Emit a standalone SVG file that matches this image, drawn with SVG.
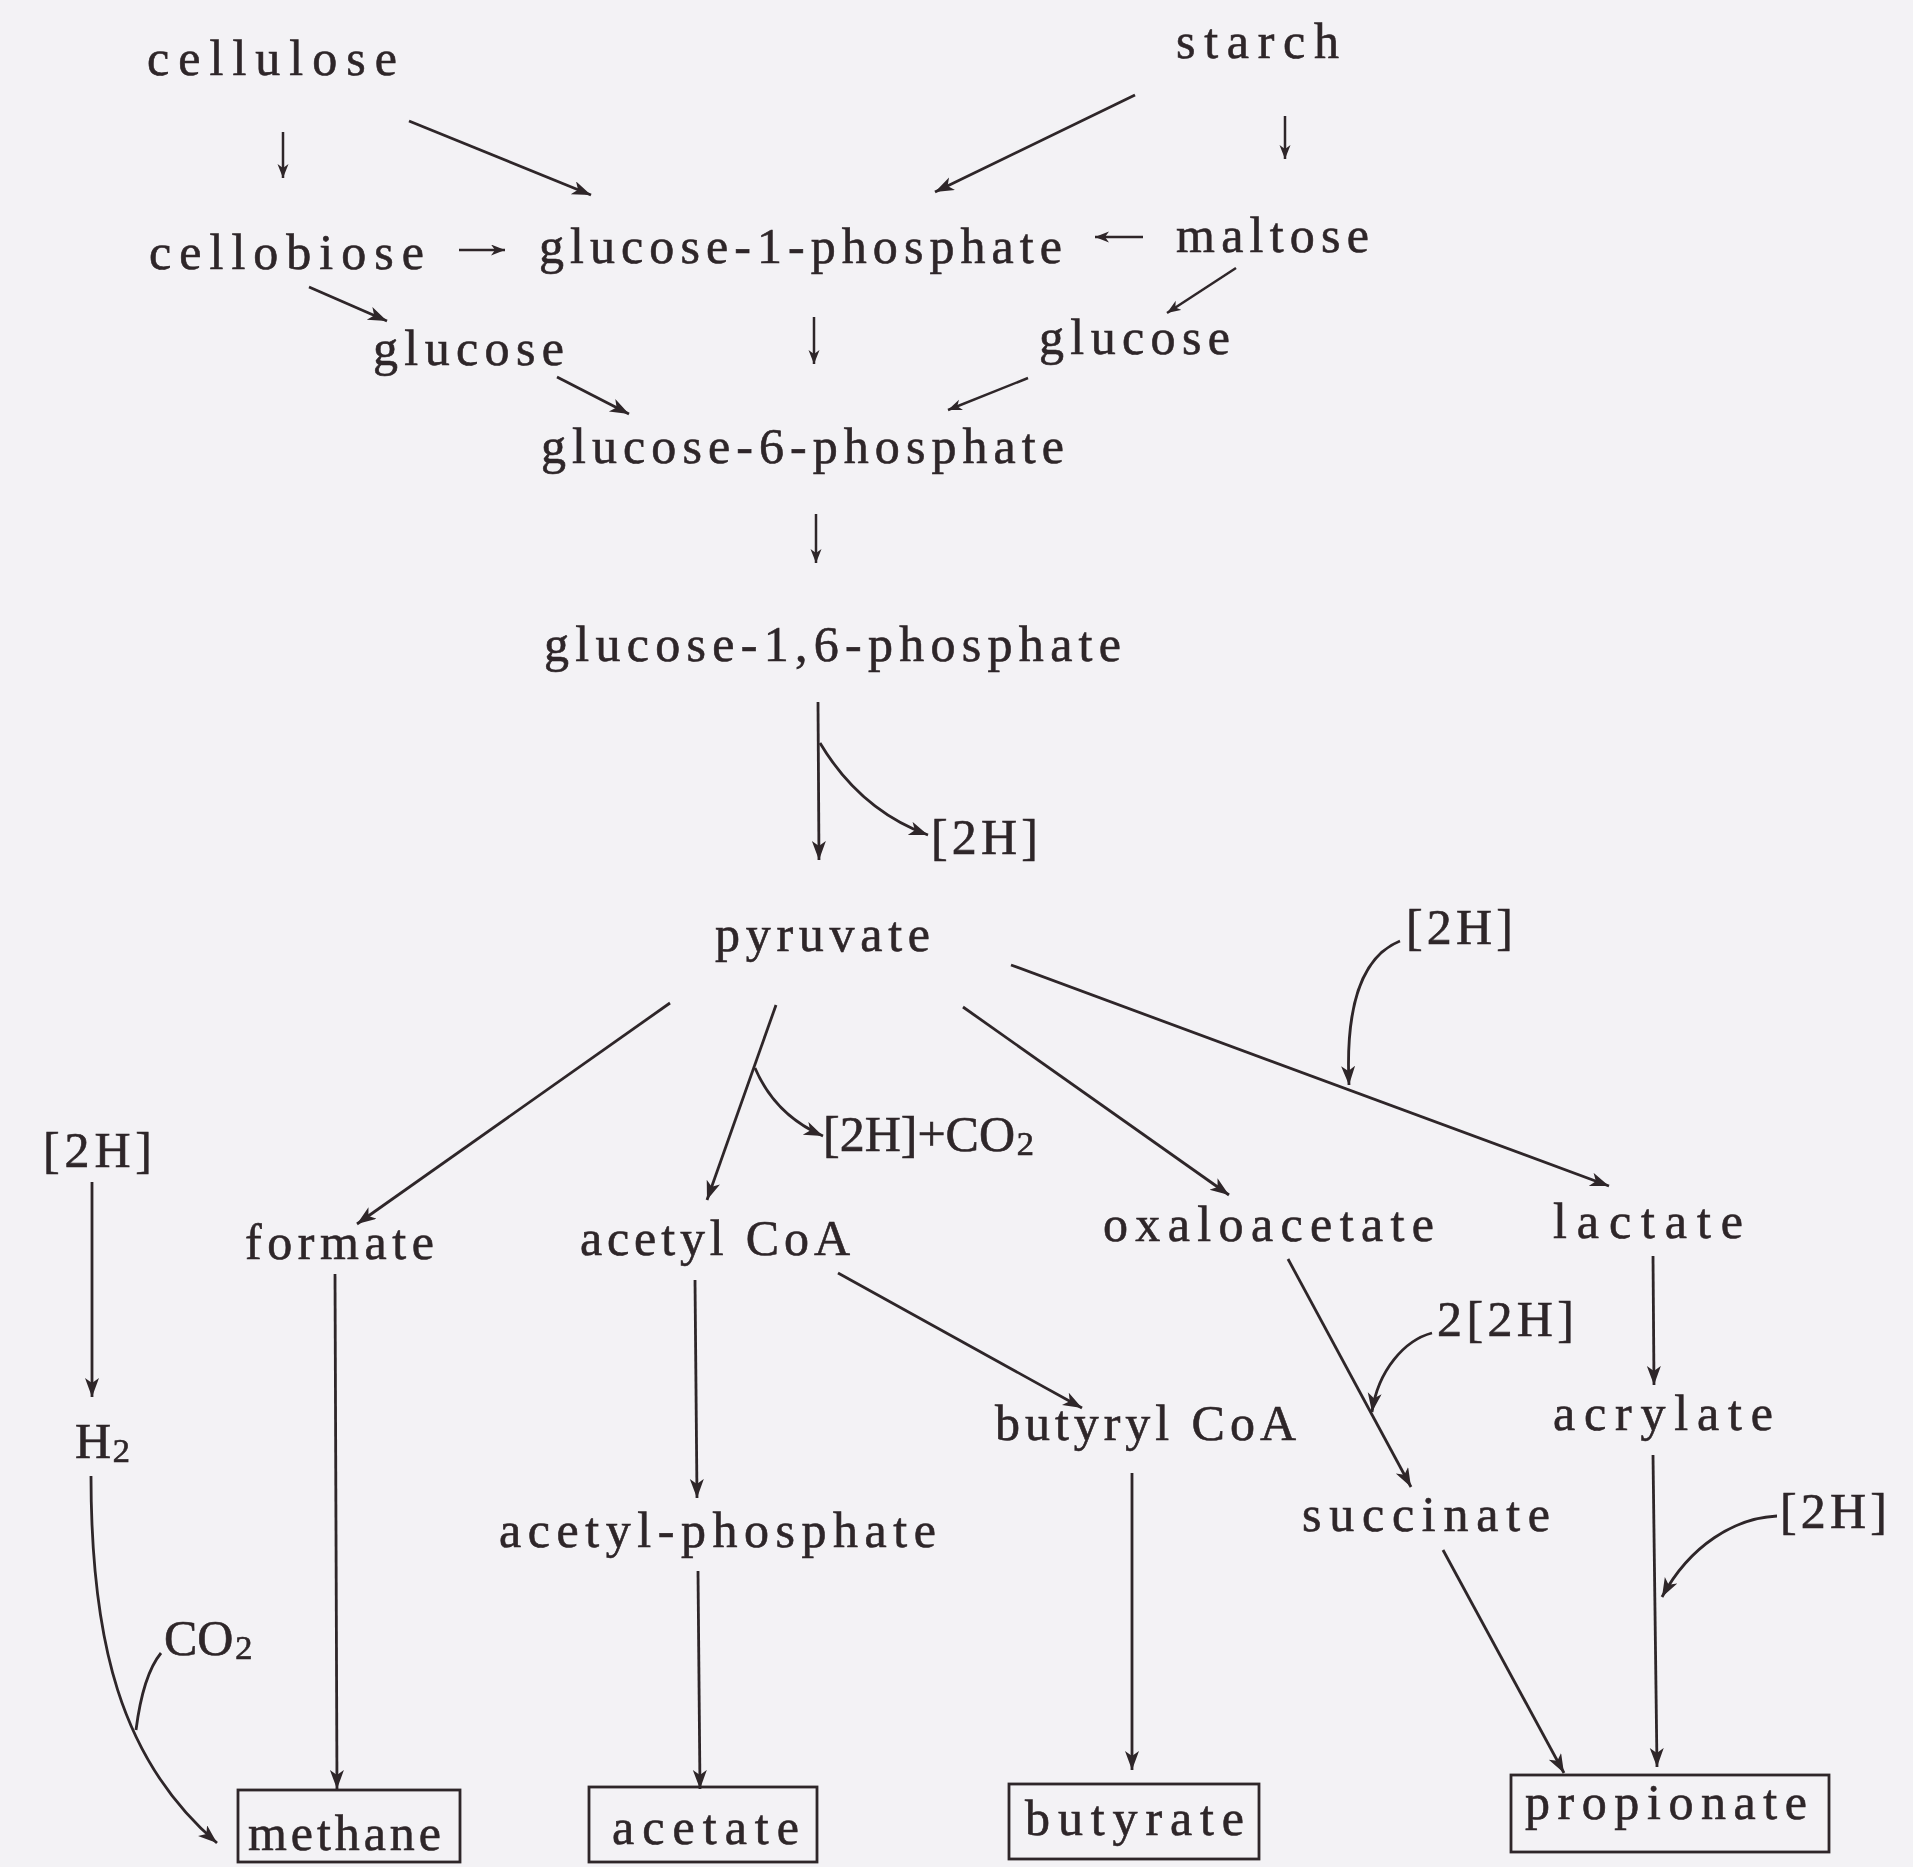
<svg xmlns="http://www.w3.org/2000/svg" width="1913" height="1867" viewBox="0 0 1913 1867">
<style>
text{font-family:"Liberation Serif","DejaVu Serif",serif;font-size:50px;fill:#2e2629;stroke:#2e2629;stroke-width:0.6}
.sub{font-size:58px}
.c{fill:none;stroke:#2e2629;stroke-width:2.8}
.s{fill:none;stroke:#2e2629;stroke-width:2.5}
.box{fill:none;stroke:#2e2629;stroke-width:2.8}
</style>
<defs>
<marker id="ah" markerUnits="userSpaceOnUse" markerWidth="22" markerHeight="16" refX="19" refY="7" orient="auto">
<path d="M0,0 L19,7 L0,14 L5,7 Z" fill="#2e2629"/>
</marker>
<marker id="as" markerUnits="userSpaceOnUse" markerWidth="16" markerHeight="12" refX="14" refY="5.5" orient="auto">
<path d="M0,0 L14,5.5 L0,11 L4,5.5 Z" fill="#2e2629"/>
</marker>
</defs>
<rect width="1913" height="1867" fill="#f3f2f5"/>
<g id="connectors">
<line class="s" x1="283" y1="132" x2="283" y2="178" marker-end="url(#as)"/>
<line class="c" x1="409" y1="121" x2="591" y2="195" marker-end="url(#ah)"/>
<line class="c" x1="1135" y1="95" x2="935" y2="192" marker-end="url(#ah)"/>
<line class="s" x1="1285" y1="116" x2="1285" y2="159" marker-end="url(#as)"/>
<line class="s" x1="459" y1="250" x2="505" y2="250" marker-end="url(#as)"/>
<line class="s" x1="1143" y1="237" x2="1095" y2="237" marker-end="url(#as)"/>
<line class="c" x1="309" y1="287" x2="387" y2="321" marker-end="url(#ah)"/>
<line class="s" x1="1236" y1="268" x2="1167" y2="313" marker-end="url(#as)"/>
<line class="s" x1="814" y1="317" x2="814" y2="364" marker-end="url(#as)"/>
<line class="c" x1="557" y1="377" x2="629" y2="414" marker-end="url(#ah)"/>
<line class="s" x1="1028" y1="378" x2="948" y2="410" marker-end="url(#as)"/>
<line class="s" x1="816" y1="514" x2="816" y2="563" marker-end="url(#as)"/>
<line class="c" x1="818" y1="702" x2="819" y2="860" marker-end="url(#ah)"/>
<path class="c" d="M820,743 Q860,810 928,835" marker-end="url(#ah)"/>
<line class="c" x1="670" y1="1003" x2="357" y2="1224" marker-end="url(#ah)"/>
<line class="c" x1="776" y1="1005" x2="707" y2="1200" marker-end="url(#ah)"/>
<path class="c" d="M755,1068 Q775,1115 823,1136" marker-end="url(#ah)"/>
<line class="c" x1="963" y1="1007" x2="1229" y2="1195" marker-end="url(#ah)"/>
<line class="c" x1="1011" y1="965" x2="1609" y2="1186" marker-end="url(#ah)"/>
<path class="c" d="M1400,941 C1365,955 1345,1000 1349,1085" marker-end="url(#ah)"/>
<line class="c" x1="92" y1="1182" x2="92" y2="1397" marker-end="url(#ah)"/>
<path class="c" d="M91,1476 C91,1640 120,1760 217,1843" marker-end="url(#ah)"/>
<path class="c" d="M161,1653 Q143,1675 136,1730"/>
<line class="c" x1="335" y1="1274" x2="337" y2="1789" marker-end="url(#ah)"/>
<line class="c" x1="695" y1="1280" x2="697" y2="1498" marker-end="url(#ah)"/>
<line class="c" x1="698" y1="1571" x2="700" y2="1789" marker-end="url(#ah)"/>
<line class="c" x1="838" y1="1273" x2="1082" y2="1408" marker-end="url(#ah)"/>
<line class="c" x1="1288" y1="1259" x2="1411" y2="1487" marker-end="url(#ah)"/>
<path class="c" d="M1432,1333 C1405,1340 1378,1370 1372,1412" marker-end="url(#ah)"/>
<line class="c" x1="1653" y1="1256" x2="1654" y2="1385" marker-end="url(#ah)"/>
<line class="c" x1="1132" y1="1473" x2="1132" y2="1770" marker-end="url(#ah)"/>
<line class="c" x1="1443" y1="1550" x2="1564" y2="1773" marker-end="url(#ah)"/>
<line class="c" x1="1653" y1="1455" x2="1657" y2="1767" marker-end="url(#ah)"/>
<path class="c" d="M1777,1516 C1735,1518 1690,1545 1662,1597" marker-end="url(#ah)"/>
</g>
<g id="n-cellulose"><text x="147" y="75" textLength="250" lengthAdjust="spacing">cellulose</text></g>
<g id="n-starch"><text x="1176" y="58" textLength="163" lengthAdjust="spacing">starch</text></g>
<g id="n-cellobiose"><text x="149" y="269" textLength="275" lengthAdjust="spacing">cellobiose</text></g>
<g id="n-g1p"><text x="539" y="263" textLength="523" lengthAdjust="spacing">glucose-1-phosphate</text></g>
<g id="n-maltose"><text x="1176" y="252" textLength="193" lengthAdjust="spacing">maltose</text></g>
<g id="n-glucose-l"><text x="373" y="365" textLength="191" lengthAdjust="spacing">glucose</text></g>
<g id="n-glucose-r"><text x="1039" y="354" textLength="191" lengthAdjust="spacing">glucose</text></g>
<g id="n-g6p"><text x="541" y="463" textLength="523" lengthAdjust="spacing">glucose-6-phosphate</text></g>
<g id="n-g16p"><text x="544" y="661" textLength="577" lengthAdjust="spacing">glucose-1,6-phosphate</text></g>
<g id="n-2h-a"><text x="931" y="854" textLength="107" lengthAdjust="spacing">[2H]</text></g>
<g id="n-pyruvate"><text x="715" y="951" textLength="215" lengthAdjust="spacing">pyruvate</text></g>
<g id="n-2h-b"><text x="1406" y="944" textLength="107" lengthAdjust="spacing">[2H]</text></g>
<g id="n-2h-co2"><text x="823" y="1151">[2H]+CO<tspan class="sub" dy="-7">₂</tspan></text></g>
<g id="n-2h-c"><text x="43" y="1167" textLength="109" lengthAdjust="spacing">[2H]</text></g>
<g id="n-h2"><text x="75" y="1458">H<tspan class="sub" dy="-7">₂</tspan></text></g>
<g id="n-formate"><text x="245" y="1259" textLength="189" lengthAdjust="spacing">formate</text></g>
<g id="n-acetylcoa"><text x="580" y="1255" textLength="270" lengthAdjust="spacing">acetyl CoA</text></g>
<g id="n-oxaloacetate"><text x="1103" y="1241" textLength="331" lengthAdjust="spacing">oxaloacetate</text></g>
<g id="n-lactate"><text x="1553" y="1238" textLength="190" lengthAdjust="spacing">lactate</text></g>
<g id="n-22h"><text x="1437" y="1336" textLength="137" lengthAdjust="spacing">2[2H]</text></g>
<g id="n-butyrylcoa"><text x="995" y="1440" textLength="301" lengthAdjust="spacing">butyryl CoA</text></g>
<g id="n-acrylate"><text x="1553" y="1430" textLength="220" lengthAdjust="spacing">acrylate</text></g>
<g id="n-acetylp"><text x="499" y="1547" textLength="437" lengthAdjust="spacing">acetyl-phosphate</text></g>
<g id="n-succinate"><text x="1302" y="1531" textLength="248" lengthAdjust="spacing">succinate</text></g>
<g id="n-2h-d"><text x="1780" y="1528" textLength="107" lengthAdjust="spacing">[2H]</text></g>
<g id="n-co2"><text x="164" y="1655">CO<tspan class="sub" dy="-7">₂</tspan></text></g>
<g id="n-methane"><rect class="box" x="238" y="1790" width="222" height="72"/><text x="248" y="1850" textLength="193" lengthAdjust="spacing">methane</text></g>
<g id="n-acetate"><rect class="box" x="589" y="1787" width="228" height="75"/><text x="612" y="1844" textLength="187" lengthAdjust="spacing">acetate</text></g>
<g id="n-butyrate"><rect class="box" x="1009" y="1784" width="250" height="75"/><text x="1025" y="1835" textLength="219" lengthAdjust="spacing">butyrate</text></g>
<g id="n-propionate"><rect class="box" x="1511" y="1775" width="318" height="77"/><text x="1525" y="1819" textLength="282" lengthAdjust="spacing">propionate</text></g>
</svg>
